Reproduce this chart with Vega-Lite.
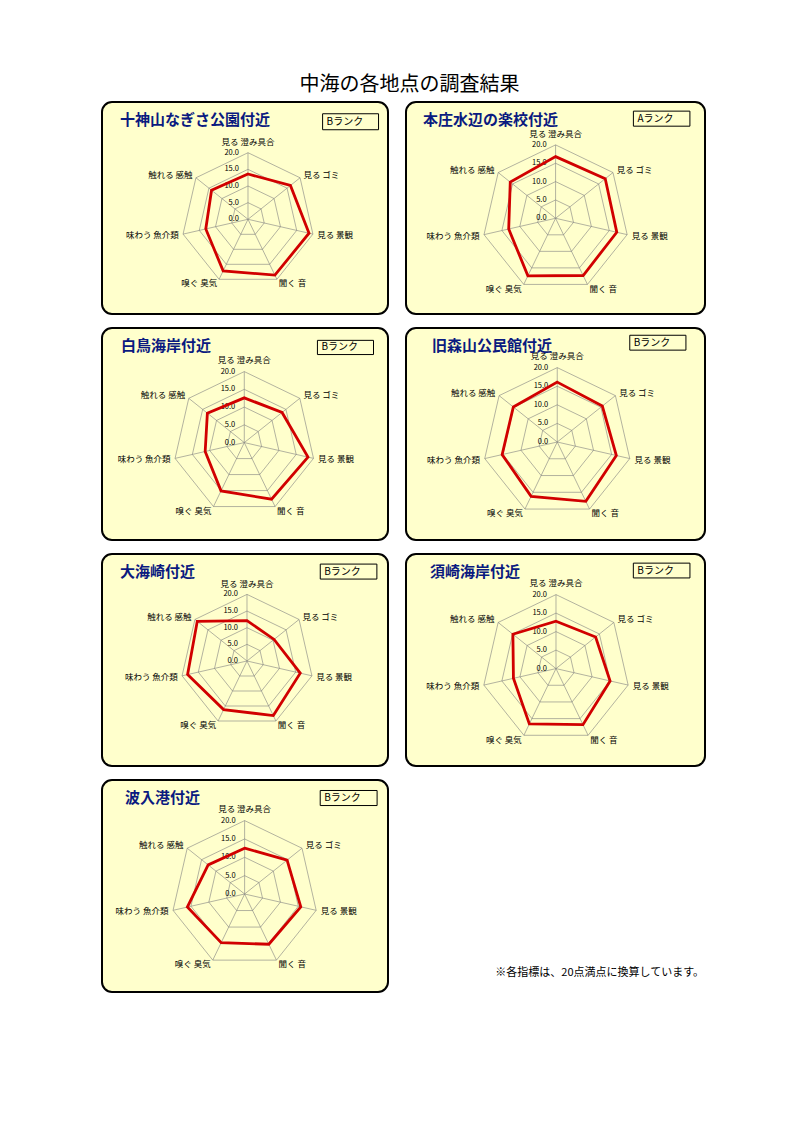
{
  "$schema": "https://vega.github.io/schema/vega-lite/v6.json",
  "background": "white",
  "padding": {"left": 101, "top": 75, "right": 0, "bottom": 0},
  "title": {
    "text": "中海の各地点の調査結果",
    "anchor": "middle",
    "frame": "bounds",
    "fontSize": 20,
    "fontWeight": "normal",
    "color": "#000",
    "baseline": "top",
    "offset": 6,
    "dx": 6
  },
  "config": {
    "view": {"fill": "#ffffcc", "stroke": "#000", "strokeWidth": 2, "cornerRadius": 10},
    "font": "Noto Sans CJK JP",
    "title": {
      "anchor": "start",
      "frame": "group",
      "font": "Noto Sans CJK JP",
      "fontSize": 15,
      "fontWeight": "bold",
      "color": "#0a1a80",
      "baseline": "bottom",
      "offset": -26
    }
  },
  "datasets": {
    "axes": [
      {"i": 0, "item": "見る 澄み具合"},
      {"i": 1, "item": "見る ゴミ"},
      {"i": 2, "item": "見る 景観"},
      {"i": 3, "item": "聞く 音"},
      {"i": 4, "item": "嗅ぐ 臭気"},
      {"i": 5, "item": "味わう 魚介類"},
      {"i": 6, "item": "触れる 感触"}
    ],
    "grid": [
      {"level": 5, "i": 0}, {"level": 5, "i": 1}, {"level": 5, "i": 2}, {"level": 5, "i": 3}, {"level": 5, "i": 4}, {"level": 5, "i": 5}, {"level": 5, "i": 6},
      {"level": 10, "i": 0}, {"level": 10, "i": 1}, {"level": 10, "i": 2}, {"level": 10, "i": 3}, {"level": 10, "i": 4}, {"level": 10, "i": 5}, {"level": 10, "i": 6},
      {"level": 15, "i": 0}, {"level": 15, "i": 1}, {"level": 15, "i": 2}, {"level": 15, "i": 3}, {"level": 15, "i": 4}, {"level": 15, "i": 5}, {"level": 15, "i": 6},
      {"level": 20, "i": 0}, {"level": 20, "i": 1}, {"level": 20, "i": 2}, {"level": 20, "i": 3}, {"level": 20, "i": 4}, {"level": 20, "i": 5}, {"level": 20, "i": 6}
    ],
    "ticks": [{"level": 0}, {"level": 5}, {"level": 10}, {"level": 15}, {"level": 20}],
    "ranks": [
      {"site": "十神山なぎさ公園付近", "rank": "Bランク"},
      {"site": "本庄水辺の楽校付近", "rank": "Aランク"},
      {"site": "白鳥海岸付近", "rank": "Bランク"},
      {"site": "旧森山公民館付近", "rank": "Bランク"},
      {"site": "大海崎付近", "rank": "Bランク"},
      {"site": "須崎海岸付近", "rank": "Bランク"},
      {"site": "波入港付近", "rank": "Bランク"}
    ],
    "scores": [
      {"site": "十神山なぎさ公園付近", "i": 0, "v": 13.6},
      {"site": "十神山なぎさ公園付近", "i": 1, "v": 16.3},
      {"site": "十神山なぎさ公園付近", "i": 2, "v": 18.8},
      {"site": "十神山なぎさ公園付近", "i": 3, "v": 18.6},
      {"site": "十神山なぎさ公園付近", "i": 4, "v": 17.2},
      {"site": "十神山なぎさ公園付近", "i": 5, "v": 13.0},
      {"site": "十神山なぎさ公園付近", "i": 6, "v": 14.0},
      {"site": "本庄水辺の楽校付近", "i": 0, "v": 16.8},
      {"site": "本庄水辺の楽校付近", "i": 1, "v": 17.3},
      {"site": "本庄水辺の楽校付近", "i": 2, "v": 17.1},
      {"site": "本庄水辺の楽校付近", "i": 3, "v": 17.3},
      {"site": "本庄水辺の楽校付近", "i": 4, "v": 17.4},
      {"site": "本庄水辺の楽校付近", "i": 5, "v": 13.1},
      {"site": "本庄水辺の楽校付近", "i": 6, "v": 15.8},
      {"site": "白鳥海岸付近", "i": 0, "v": 12.6},
      {"site": "白鳥海岸付近", "i": 1, "v": 13.6},
      {"site": "白鳥海岸付近", "i": 2, "v": 18.4},
      {"site": "白鳥海岸付近", "i": 3, "v": 17.7},
      {"site": "白鳥海岸付近", "i": 4, "v": 15.1},
      {"site": "白鳥海岸付近", "i": 5, "v": 11.3},
      {"site": "白鳥海岸付近", "i": 6, "v": 13.3},
      {"site": "旧森山公民館付近", "i": 0, "v": 16.1},
      {"site": "旧森山公民館付近", "i": 1, "v": 15.5},
      {"site": "旧森山公民館付近", "i": 2, "v": 16.3},
      {"site": "旧森山公民館付近", "i": 3, "v": 17.7},
      {"site": "旧森山公民館付近", "i": 4, "v": 16.2},
      {"site": "旧森山公民館付近", "i": 5, "v": 15.2},
      {"site": "旧森山公民館付近", "i": 6, "v": 15.1},
      {"site": "大海崎付近", "i": 0, "v": 12.1},
      {"site": "大海崎付近", "i": 1, "v": 10.4},
      {"site": "大海崎付近", "i": 2, "v": 16.4},
      {"site": "大海崎付近", "i": 3, "v": 18.2},
      {"site": "大海崎付近", "i": 4, "v": 16.2},
      {"site": "大海崎付近", "i": 5, "v": 18.3},
      {"site": "大海崎付近", "i": 6, "v": 19.1},
      {"site": "須崎海岸付近", "i": 0, "v": 12.8},
      {"site": "須崎海岸付近", "i": 1, "v": 13.7},
      {"site": "須崎海岸付近", "i": 2, "v": 15.0},
      {"site": "須崎海岸付近", "i": 3, "v": 16.8},
      {"site": "須崎海岸付近", "i": 4, "v": 16.6},
      {"site": "須崎海岸付近", "i": 5, "v": 11.8},
      {"site": "須崎海岸付近", "i": 6, "v": 14.9},
      {"site": "波入港付近", "i": 0, "v": 12.5},
      {"site": "波入港付近", "i": 1, "v": 14.8},
      {"site": "波入港付近", "i": 2, "v": 15.7},
      {"site": "波入港付近", "i": 3, "v": 15.2},
      {"site": "波入港付近", "i": 4, "v": 14.7},
      {"site": "波入港付近", "i": 5, "v": 16.0},
      {"site": "波入港付近", "i": 6, "v": 12.7}
    ]
  },
  "spacing": 12,
  "resolve": {"scale": {"x": "independent", "y": "independent"}},
  "vconcat": [
    {
      "spacing": 16,
      "resolve": {"scale": {"x": "independent", "y": "independent"}},
      "hconcat": [
        {
          "width": 286, "height": 212,
          "title": {"text": "十神山なぎさ公園付近", "dx": 18},
          "encoding": {
            "x": {"field": "x", "type": "quantitative", "axis": null, "scale": {"domain": [-43.84, 42.04], "nice": false, "zero": false}},
            "y": {"field": "y", "type": "quantitative", "axis": null, "scale": {"domain": [-28.44, 35.23], "nice": false, "zero": false}}
          },
          "layer": [
            {"data": {"name": "grid"}, "transform": [{"calculate": "datum.level*sin(datum.i*2*PI/7)", "as": "x"}, {"calculate": "datum.level*cos(datum.i*2*PI/7)", "as": "y"}], "mark": {"type": "line", "interpolate": "linear-closed", "stroke": "#808080", "strokeWidth": 0.6}, "encoding": {"detail": {"field": "level", "type": "nominal"}, "order": {"field": "i", "type": "quantitative"}}},
            {"data": {"name": "axes"}, "transform": [{"calculate": "20*sin(datum.i*2*PI/7)", "as": "x"}, {"calculate": "20*cos(datum.i*2*PI/7)", "as": "y"}], "mark": {"type": "rule", "stroke": "#808080", "strokeWidth": 0.6}, "encoding": {"x2": {"datum": 0}, "y2": {"datum": 0}}},
            {"data": {"name": "ticks"}, "transform": [{"calculate": "0", "as": "x"}, {"calculate": "datum.level", "as": "y"}], "mark": {"type": "text", "align": "right", "baseline": "middle", "dx": -9, "fontSize": 7.5}, "encoding": {"text": {"field": "level", "type": "quantitative", "format": ".1f"}}},
            {"data": {"name": "axes"}, "transform": [{"calculate": "21.3*sin(datum.i*2*PI/7)", "as": "x"}, {"calculate": "21.3*cos(datum.i*2*PI/7)", "as": "y"}], "mark": {"type": "text", "fontSize": 8.5, "align": {"expr": "datum.i == 0 ? 'center' : datum.i < 4 ? 'left' : 'right'"}, "baseline": {"expr": "datum.i == 0 ? 'bottom' : 'middle'"}, "dy": {"expr": "datum.i == 0 ? -1.5 : 0"}}, "encoding": {"text": {"field": "item", "type": "nominal"}}},
            {"data": {"name": "scores"}, "transform": [{"filter": "datum.site == '十神山なぎさ公園付近'"}, {"calculate": "datum.v*sin(datum.i*2*PI/7)", "as": "x"}, {"calculate": "datum.v*cos(datum.i*2*PI/7)", "as": "y"}], "mark": {"type": "line", "interpolate": "linear-closed", "stroke": "#d10000", "strokeWidth": 2.8}, "encoding": {"order": {"field": "i", "type": "quantitative"}}},
            {"data": {"name": "ranks"}, "transform": [{"filter": "datum.site == '十神山なぎさ公園付近'"}, {"calculate": "22.4", "as": "x"}, {"calculate": "31.7", "as": "y"}], "mark": {"type": "rect", "fillOpacity": 0, "stroke": "#000", "strokeWidth": 1}, "encoding": {"x2": {"datum": 39.2}, "y2": {"datum": 26.9}}},
            {"data": {"name": "ranks"}, "transform": [{"filter": "datum.site == '十神山なぎさ公園付近'"}, {"calculate": "22.4", "as": "x"}, {"calculate": "29.3", "as": "y"}], "mark": {"type": "text", "align": "left", "baseline": "middle", "dx": 4, "fontSize": 10}, "encoding": {"text": {"field": "rank", "type": "nominal"}}}
          ]
        },
        {
          "width": 299, "height": 212,
          "title": {"text": "本庄水辺の楽校付近", "dx": 17},
          "encoding": {
            "x": {"field": "x", "type": "quantitative", "axis": null, "scale": {"domain": [-40.76, 40.71], "nice": false, "zero": false}},
            "y": {"field": "y", "type": "quantitative", "axis": null, "scale": {"domain": [-26.08, 31.69], "nice": false, "zero": false}}
          },
          "layer": [
            {"data": {"name": "grid"}, "transform": [{"calculate": "datum.level*sin(datum.i*2*PI/7)", "as": "x"}, {"calculate": "datum.level*cos(datum.i*2*PI/7)", "as": "y"}], "mark": {"type": "line", "interpolate": "linear-closed", "stroke": "#808080", "strokeWidth": 0.6}, "encoding": {"detail": {"field": "level", "type": "nominal"}, "order": {"field": "i", "type": "quantitative"}}},
            {"data": {"name": "axes"}, "transform": [{"calculate": "20*sin(datum.i*2*PI/7)", "as": "x"}, {"calculate": "20*cos(datum.i*2*PI/7)", "as": "y"}], "mark": {"type": "rule", "stroke": "#808080", "strokeWidth": 0.6}, "encoding": {"x2": {"datum": 0}, "y2": {"datum": 0}}},
            {"data": {"name": "ticks"}, "transform": [{"calculate": "0", "as": "x"}, {"calculate": "datum.level", "as": "y"}], "mark": {"type": "text", "align": "right", "baseline": "middle", "dx": -9, "fontSize": 7.5}, "encoding": {"text": {"field": "level", "type": "quantitative", "format": ".1f"}}},
            {"data": {"name": "axes"}, "transform": [{"calculate": "21.3*sin(datum.i*2*PI/7)", "as": "x"}, {"calculate": "21.3*cos(datum.i*2*PI/7)", "as": "y"}], "mark": {"type": "text", "fontSize": 8.5, "align": {"expr": "datum.i == 0 ? 'center' : datum.i < 4 ? 'left' : 'right'"}, "baseline": {"expr": "datum.i == 0 ? 'bottom' : 'middle'"}, "dy": {"expr": "datum.i == 0 ? -1.5 : 0"}}, "encoding": {"text": {"field": "item", "type": "nominal"}}},
            {"data": {"name": "scores"}, "transform": [{"filter": "datum.site == '本庄水辺の楽校付近'"}, {"calculate": "datum.v*sin(datum.i*2*PI/7)", "as": "x"}, {"calculate": "datum.v*cos(datum.i*2*PI/7)", "as": "y"}], "mark": {"type": "line", "interpolate": "linear-closed", "stroke": "#d10000", "strokeWidth": 2.8}, "encoding": {"order": {"field": "i", "type": "quantitative"}}},
            {"data": {"name": "ranks"}, "transform": [{"filter": "datum.site == '本庄水辺の楽校付近'"}, {"calculate": "21.2", "as": "x"}, {"calculate": "29.2", "as": "y"}], "mark": {"type": "rect", "fillOpacity": 0, "stroke": "#000", "strokeWidth": 1}, "encoding": {"x2": {"datum": 36.6}, "y2": {"datum": 25.1}}},
            {"data": {"name": "ranks"}, "transform": [{"filter": "datum.site == '本庄水辺の楽校付近'"}, {"calculate": "21.2", "as": "x"}, {"calculate": "27.15", "as": "y"}], "mark": {"type": "text", "align": "left", "baseline": "middle", "dx": 4, "fontSize": 10}, "encoding": {"text": {"field": "rank", "type": "nominal"}}}
          ]
        }
      ]
    },
    {
      "spacing": 16,
      "resolve": {"scale": {"x": "independent", "y": "independent"}},
      "hconcat": [
        {
          "width": 286, "height": 212,
          "title": {"text": "白鳥海岸付近", "dx": 19},
          "encoding": {
            "x": {"field": "x", "type": "quantitative", "axis": null, "scale": {"domain": [-40.08, 40.48], "nice": false, "zero": false}},
            "y": {"field": "y", "type": "quantitative", "axis": null, "scale": {"domain": [-27.44, 32.28], "nice": false, "zero": false}}
          },
          "layer": [
            {"data": {"name": "grid"}, "transform": [{"calculate": "datum.level*sin(datum.i*2*PI/7)", "as": "x"}, {"calculate": "datum.level*cos(datum.i*2*PI/7)", "as": "y"}], "mark": {"type": "line", "interpolate": "linear-closed", "stroke": "#808080", "strokeWidth": 0.6}, "encoding": {"detail": {"field": "level", "type": "nominal"}, "order": {"field": "i", "type": "quantitative"}}},
            {"data": {"name": "axes"}, "transform": [{"calculate": "20*sin(datum.i*2*PI/7)", "as": "x"}, {"calculate": "20*cos(datum.i*2*PI/7)", "as": "y"}], "mark": {"type": "rule", "stroke": "#808080", "strokeWidth": 0.6}, "encoding": {"x2": {"datum": 0}, "y2": {"datum": 0}}},
            {"data": {"name": "ticks"}, "transform": [{"calculate": "0", "as": "x"}, {"calculate": "datum.level", "as": "y"}], "mark": {"type": "text", "align": "right", "baseline": "middle", "dx": -9, "fontSize": 7.5}, "encoding": {"text": {"field": "level", "type": "quantitative", "format": ".1f"}}},
            {"data": {"name": "axes"}, "transform": [{"calculate": "21.3*sin(datum.i*2*PI/7)", "as": "x"}, {"calculate": "21.3*cos(datum.i*2*PI/7)", "as": "y"}], "mark": {"type": "text", "fontSize": 8.5, "align": {"expr": "datum.i == 0 ? 'center' : datum.i < 4 ? 'left' : 'right'"}, "baseline": {"expr": "datum.i == 0 ? 'bottom' : 'middle'"}, "dy": {"expr": "datum.i == 0 ? -1.5 : 0"}}, "encoding": {"text": {"field": "item", "type": "nominal"}}},
            {"data": {"name": "scores"}, "transform": [{"filter": "datum.site == '白鳥海岸付近'"}, {"calculate": "datum.v*sin(datum.i*2*PI/7)", "as": "x"}, {"calculate": "datum.v*cos(datum.i*2*PI/7)", "as": "y"}], "mark": {"type": "line", "interpolate": "linear-closed", "stroke": "#d10000", "strokeWidth": 2.8}, "encoding": {"order": {"field": "i", "type": "quantitative"}}},
            {"data": {"name": "ranks"}, "transform": [{"filter": "datum.site == '白鳥海岸付近'"}, {"calculate": "20.6", "as": "x"}, {"calculate": "28.8", "as": "y"}], "mark": {"type": "rect", "fillOpacity": 0, "stroke": "#000", "strokeWidth": 1}, "encoding": {"x2": {"datum": 36.4}, "y2": {"datum": 24.8}}},
            {"data": {"name": "ranks"}, "transform": [{"filter": "datum.site == '白鳥海岸付近'"}, {"calculate": "20.6", "as": "x"}, {"calculate": "26.8", "as": "y"}], "mark": {"type": "text", "align": "left", "baseline": "middle", "dx": 4, "fontSize": 10}, "encoding": {"text": {"field": "rank", "type": "nominal"}}}
          ]
        },
        {
          "width": 299, "height": 212,
          "title": {"text": "旧森山公民館付近", "dx": 26},
          "encoding": {
            "x": {"field": "x", "type": "quantitative", "axis": null, "scale": {"domain": [-40.67, 39.73], "nice": false, "zero": false}},
            "y": {"field": "y", "type": "quantitative", "axis": null, "scale": {"domain": [-26.34, 30.65], "nice": false, "zero": false}}
          },
          "layer": [
            {"data": {"name": "grid"}, "transform": [{"calculate": "datum.level*sin(datum.i*2*PI/7)", "as": "x"}, {"calculate": "datum.level*cos(datum.i*2*PI/7)", "as": "y"}], "mark": {"type": "line", "interpolate": "linear-closed", "stroke": "#808080", "strokeWidth": 0.6}, "encoding": {"detail": {"field": "level", "type": "nominal"}, "order": {"field": "i", "type": "quantitative"}}},
            {"data": {"name": "axes"}, "transform": [{"calculate": "20*sin(datum.i*2*PI/7)", "as": "x"}, {"calculate": "20*cos(datum.i*2*PI/7)", "as": "y"}], "mark": {"type": "rule", "stroke": "#808080", "strokeWidth": 0.6}, "encoding": {"x2": {"datum": 0}, "y2": {"datum": 0}}},
            {"data": {"name": "ticks"}, "transform": [{"calculate": "0", "as": "x"}, {"calculate": "datum.level", "as": "y"}], "mark": {"type": "text", "align": "right", "baseline": "middle", "dx": -9, "fontSize": 7.5}, "encoding": {"text": {"field": "level", "type": "quantitative", "format": ".1f"}}},
            {"data": {"name": "axes"}, "transform": [{"calculate": "21.3*sin(datum.i*2*PI/7)", "as": "x"}, {"calculate": "21.3*cos(datum.i*2*PI/7)", "as": "y"}], "mark": {"type": "text", "fontSize": 8.5, "align": {"expr": "datum.i == 0 ? 'center' : datum.i < 4 ? 'left' : 'right'"}, "baseline": {"expr": "datum.i == 0 ? 'bottom' : 'middle'"}, "dy": {"expr": "datum.i == 0 ? -1.5 : 0"}}, "encoding": {"text": {"field": "item", "type": "nominal"}}},
            {"data": {"name": "scores"}, "transform": [{"filter": "datum.site == '旧森山公民館付近'"}, {"calculate": "datum.v*sin(datum.i*2*PI/7)", "as": "x"}, {"calculate": "datum.v*cos(datum.i*2*PI/7)", "as": "y"}], "mark": {"type": "line", "interpolate": "linear-closed", "stroke": "#d10000", "strokeWidth": 2.8}, "encoding": {"order": {"field": "i", "type": "quantitative"}}},
            {"data": {"name": "ranks"}, "transform": [{"filter": "datum.site == '旧森山公民館付近'"}, {"calculate": "19.5", "as": "x"}, {"calculate": "28.7", "as": "y"}], "mark": {"type": "rect", "fillOpacity": 0, "stroke": "#000", "strokeWidth": 1}, "encoding": {"x2": {"datum": 34.6}, "y2": {"datum": 24.7}}},
            {"data": {"name": "ranks"}, "transform": [{"filter": "datum.site == '旧森山公民館付近'"}, {"calculate": "19.5", "as": "x"}, {"calculate": "26.7", "as": "y"}], "mark": {"type": "text", "align": "left", "baseline": "middle", "dx": 4, "fontSize": 10}, "encoding": {"text": {"field": "rank", "type": "nominal"}}}
          ]
        }
      ]
    },
    {
      "spacing": 16,
      "resolve": {"scale": {"x": "independent", "y": "independent"}},
      "hconcat": [
        {
          "width": 286, "height": 212,
          "title": {"text": "大海崎付近", "dx": 18},
          "encoding": {
            "x": {"field": "x", "type": "quantitative", "axis": null, "scale": {"domain": [-43.54, 42.34], "nice": false, "zero": false}},
            "y": {"field": "y", "type": "quantitative", "axis": null, "scale": {"domain": [-31.53, 32.13], "nice": false, "zero": false}}
          },
          "layer": [
            {"data": {"name": "grid"}, "transform": [{"calculate": "datum.level*sin(datum.i*2*PI/7)", "as": "x"}, {"calculate": "datum.level*cos(datum.i*2*PI/7)", "as": "y"}], "mark": {"type": "line", "interpolate": "linear-closed", "stroke": "#808080", "strokeWidth": 0.6}, "encoding": {"detail": {"field": "level", "type": "nominal"}, "order": {"field": "i", "type": "quantitative"}}},
            {"data": {"name": "axes"}, "transform": [{"calculate": "20*sin(datum.i*2*PI/7)", "as": "x"}, {"calculate": "20*cos(datum.i*2*PI/7)", "as": "y"}], "mark": {"type": "rule", "stroke": "#808080", "strokeWidth": 0.6}, "encoding": {"x2": {"datum": 0}, "y2": {"datum": 0}}},
            {"data": {"name": "ticks"}, "transform": [{"calculate": "0", "as": "x"}, {"calculate": "datum.level", "as": "y"}], "mark": {"type": "text", "align": "right", "baseline": "middle", "dx": -9, "fontSize": 7.5}, "encoding": {"text": {"field": "level", "type": "quantitative", "format": ".1f"}}},
            {"data": {"name": "axes"}, "transform": [{"calculate": "21.3*sin(datum.i*2*PI/7)", "as": "x"}, {"calculate": "21.3*cos(datum.i*2*PI/7)", "as": "y"}], "mark": {"type": "text", "fontSize": 8.5, "align": {"expr": "datum.i == 0 ? 'center' : datum.i < 4 ? 'left' : 'right'"}, "baseline": {"expr": "datum.i == 0 ? 'bottom' : 'middle'"}, "dy": {"expr": "datum.i == 0 ? -1.5 : 0"}}, "encoding": {"text": {"field": "item", "type": "nominal"}}},
            {"data": {"name": "scores"}, "transform": [{"filter": "datum.site == '大海崎付近'"}, {"calculate": "datum.v*sin(datum.i*2*PI/7)", "as": "x"}, {"calculate": "datum.v*cos(datum.i*2*PI/7)", "as": "y"}], "mark": {"type": "line", "interpolate": "linear-closed", "stroke": "#d10000", "strokeWidth": 2.8}, "encoding": {"order": {"field": "i", "type": "quantitative"}}},
            {"data": {"name": "ranks"}, "transform": [{"filter": "datum.site == '大海崎付近'"}, {"calculate": "22.0", "as": "x"}, {"calculate": "29.1", "as": "y"}], "mark": {"type": "rect", "fillOpacity": 0, "stroke": "#000", "strokeWidth": 1}, "encoding": {"x2": {"datum": 39.0}, "y2": {"datum": 24.6}}},
            {"data": {"name": "ranks"}, "transform": [{"filter": "datum.site == '大海崎付近'"}, {"calculate": "22.0", "as": "x"}, {"calculate": "26.85", "as": "y"}], "mark": {"type": "text", "align": "left", "baseline": "middle", "dx": 4, "fontSize": 10}, "encoding": {"text": {"field": "rank", "type": "nominal"}}}
          ]
        },
        {
          "width": 299, "height": 212,
          "title": {"text": "須崎海岸付近", "dx": 24},
          "encoding": {
            "x": {"field": "x", "type": "quantitative", "axis": null, "scale": {"domain": [-40.54, 40.27], "nice": false, "zero": false}},
            "y": {"field": "y", "type": "quantitative", "axis": null, "scale": {"domain": [-26.32, 30.97], "nice": false, "zero": false}}
          },
          "layer": [
            {"data": {"name": "grid"}, "transform": [{"calculate": "datum.level*sin(datum.i*2*PI/7)", "as": "x"}, {"calculate": "datum.level*cos(datum.i*2*PI/7)", "as": "y"}], "mark": {"type": "line", "interpolate": "linear-closed", "stroke": "#808080", "strokeWidth": 0.6}, "encoding": {"detail": {"field": "level", "type": "nominal"}, "order": {"field": "i", "type": "quantitative"}}},
            {"data": {"name": "axes"}, "transform": [{"calculate": "20*sin(datum.i*2*PI/7)", "as": "x"}, {"calculate": "20*cos(datum.i*2*PI/7)", "as": "y"}], "mark": {"type": "rule", "stroke": "#808080", "strokeWidth": 0.6}, "encoding": {"x2": {"datum": 0}, "y2": {"datum": 0}}},
            {"data": {"name": "ticks"}, "transform": [{"calculate": "0", "as": "x"}, {"calculate": "datum.level", "as": "y"}], "mark": {"type": "text", "align": "right", "baseline": "middle", "dx": -9, "fontSize": 7.5}, "encoding": {"text": {"field": "level", "type": "quantitative", "format": ".1f"}}},
            {"data": {"name": "axes"}, "transform": [{"calculate": "21.3*sin(datum.i*2*PI/7)", "as": "x"}, {"calculate": "21.3*cos(datum.i*2*PI/7)", "as": "y"}], "mark": {"type": "text", "fontSize": 8.5, "align": {"expr": "datum.i == 0 ? 'center' : datum.i < 4 ? 'left' : 'right'"}, "baseline": {"expr": "datum.i == 0 ? 'bottom' : 'middle'"}, "dy": {"expr": "datum.i == 0 ? -1.5 : 0"}}, "encoding": {"text": {"field": "item", "type": "nominal"}}},
            {"data": {"name": "scores"}, "transform": [{"filter": "datum.site == '須崎海岸付近'"}, {"calculate": "datum.v*sin(datum.i*2*PI/7)", "as": "x"}, {"calculate": "datum.v*cos(datum.i*2*PI/7)", "as": "y"}], "mark": {"type": "line", "interpolate": "linear-closed", "stroke": "#d10000", "strokeWidth": 2.8}, "encoding": {"order": {"field": "i", "type": "quantitative"}}},
            {"data": {"name": "ranks"}, "transform": [{"filter": "datum.site == '須崎海岸付近'"}, {"calculate": "20.9", "as": "x"}, {"calculate": "28.5", "as": "y"}], "mark": {"type": "rect", "fillOpacity": 0, "stroke": "#000", "strokeWidth": 1}, "encoding": {"x2": {"datum": 36.2}, "y2": {"datum": 24.5}}},
            {"data": {"name": "ranks"}, "transform": [{"filter": "datum.site == '須崎海岸付近'"}, {"calculate": "20.9", "as": "x"}, {"calculate": "26.5", "as": "y"}], "mark": {"type": "text", "align": "left", "baseline": "middle", "dx": 4, "fontSize": 10}, "encoding": {"text": {"field": "rank", "type": "nominal"}}}
          ]
        }
      ]
    },
    {
      "spacing": 16,
      "resolve": {"scale": {"x": "independent", "y": "independent"}},
      "hconcat": [
        {
          "width": 286, "height": 212,
          "title": {"text": "波入港付近", "dx": 23},
          "encoding": {
            "x": {"field": "x", "type": "quantitative", "axis": null, "scale": {"domain": [-38.86, 39.07], "nice": false, "zero": false}},
            "y": {"field": "y", "type": "quantitative", "axis": null, "scale": {"domain": [-26.7, 31.06], "nice": false, "zero": false}}
          },
          "layer": [
            {"data": {"name": "grid"}, "transform": [{"calculate": "datum.level*sin(datum.i*2*PI/7)", "as": "x"}, {"calculate": "datum.level*cos(datum.i*2*PI/7)", "as": "y"}], "mark": {"type": "line", "interpolate": "linear-closed", "stroke": "#808080", "strokeWidth": 0.6}, "encoding": {"detail": {"field": "level", "type": "nominal"}, "order": {"field": "i", "type": "quantitative"}}},
            {"data": {"name": "axes"}, "transform": [{"calculate": "20*sin(datum.i*2*PI/7)", "as": "x"}, {"calculate": "20*cos(datum.i*2*PI/7)", "as": "y"}], "mark": {"type": "rule", "stroke": "#808080", "strokeWidth": 0.6}, "encoding": {"x2": {"datum": 0}, "y2": {"datum": 0}}},
            {"data": {"name": "ticks"}, "transform": [{"calculate": "0", "as": "x"}, {"calculate": "datum.level", "as": "y"}], "mark": {"type": "text", "align": "right", "baseline": "middle", "dx": -9, "fontSize": 7.5}, "encoding": {"text": {"field": "level", "type": "quantitative", "format": ".1f"}}},
            {"data": {"name": "axes"}, "transform": [{"calculate": "21.3*sin(datum.i*2*PI/7)", "as": "x"}, {"calculate": "21.3*cos(datum.i*2*PI/7)", "as": "y"}], "mark": {"type": "text", "fontSize": 8.5, "align": {"expr": "datum.i == 0 ? 'center' : datum.i < 4 ? 'left' : 'right'"}, "baseline": {"expr": "datum.i == 0 ? 'bottom' : 'middle'"}, "dy": {"expr": "datum.i == 0 ? -1.5 : 0"}}, "encoding": {"text": {"field": "item", "type": "nominal"}}},
            {"data": {"name": "scores"}, "transform": [{"filter": "datum.site == '波入港付近'"}, {"calculate": "datum.v*sin(datum.i*2*PI/7)", "as": "x"}, {"calculate": "datum.v*cos(datum.i*2*PI/7)", "as": "y"}], "mark": {"type": "line", "interpolate": "linear-closed", "stroke": "#d10000", "strokeWidth": 2.8}, "encoding": {"order": {"field": "i", "type": "quantitative"}}},
            {"data": {"name": "ranks"}, "transform": [{"filter": "datum.site == '波入港付近'"}, {"calculate": "20.6", "as": "x"}, {"calculate": "28.2", "as": "y"}], "mark": {"type": "rect", "fillOpacity": 0, "stroke": "#000", "strokeWidth": 1}, "encoding": {"x2": {"datum": 36.1}, "y2": {"datum": 24.1}}},
            {"data": {"name": "ranks"}, "transform": [{"filter": "datum.site == '波入港付近'"}, {"calculate": "20.6", "as": "x"}, {"calculate": "26.15", "as": "y"}], "mark": {"type": "text", "align": "left", "baseline": "middle", "dx": 4, "fontSize": 10}, "encoding": {"text": {"field": "rank", "type": "nominal"}}}
          ]
        },
        {
          "width": 299, "height": 212,
          "view": {"fill": "transparent", "stroke": "transparent"},
          "data": {"values": [{"note": "※各指標は、20点満点に換算しています。"}]},
          "mark": {"type": "text", "align": "right", "baseline": "middle", "fontSize": 11},
          "encoding": {
            "x": {"datum": 0.997, "type": "quantitative", "axis": null, "scale": {"domain": [0, 1], "nice": false}},
            "y": {"datum": 0.091, "type": "quantitative", "axis": null, "scale": {"domain": [0, 1], "nice": false}},
            "text": {"field": "note", "type": "nominal"}
          }
        }
      ]
    }
  ]
}
